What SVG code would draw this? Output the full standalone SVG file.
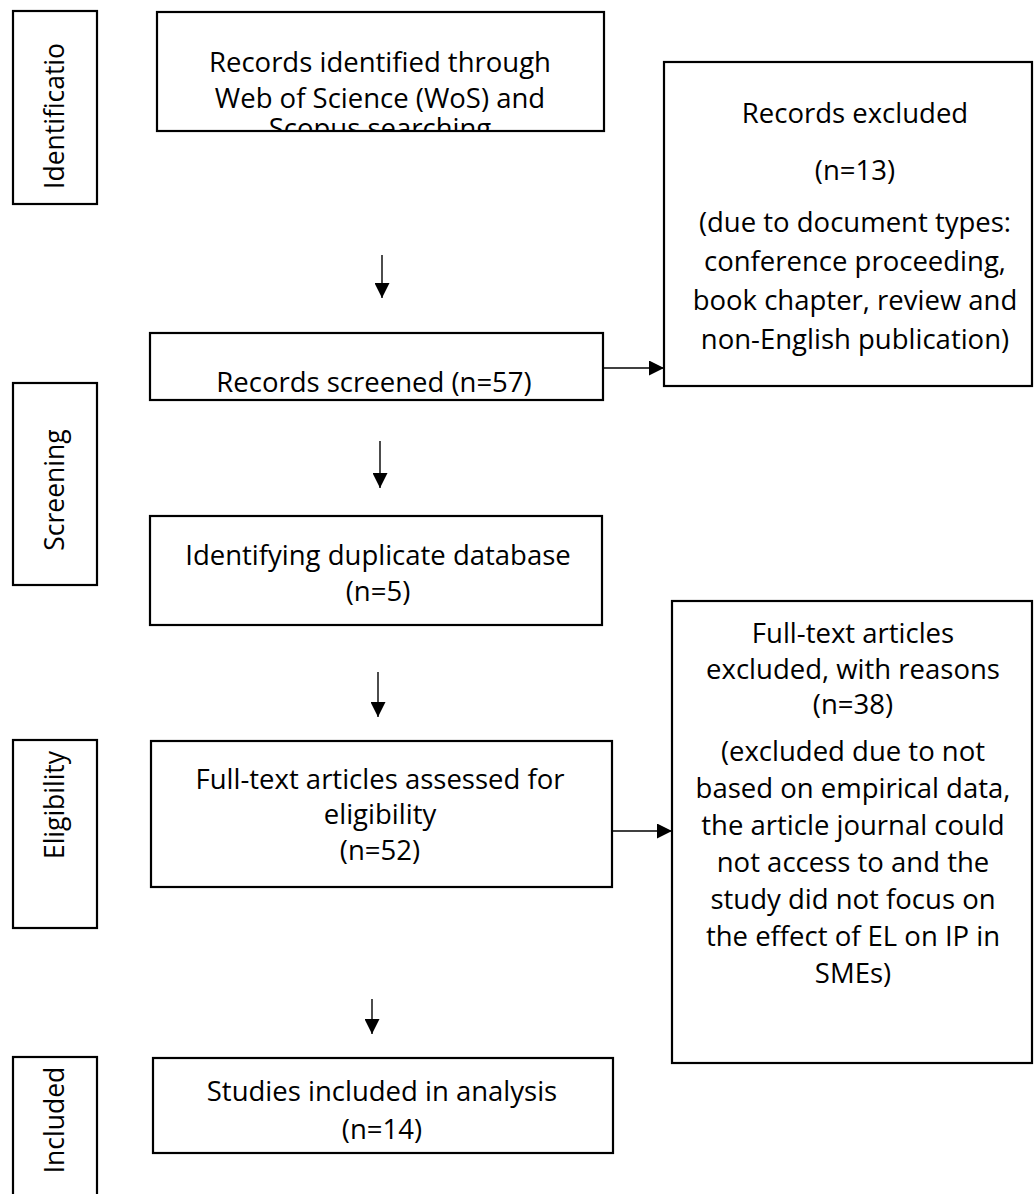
<svg xmlns="http://www.w3.org/2000/svg" width="1035" height="1194" viewBox="0 0 1035 1194">
<style>
.box{fill:#fff;stroke:#000;stroke-width:2.2}
.t{font-family:"Open Sans","Noto Sans",sans-serif;font-size:27.5px;fill:#000;text-anchor:middle}
.s{font-family:"Open Sans","Noto Sans",sans-serif;font-size:26.5px;fill:#000;text-anchor:middle}
.c{stroke:#000;stroke-width:1.4;fill:none}
</style>
<defs>
<marker id="ah" viewBox="0 0 10 10" refX="10" refY="5" markerWidth="15" markerHeight="15" markerUnits="userSpaceOnUse" orient="auto">
<path d="M0,0 L10,5 L0,10 z" fill="#000"/>
</marker>
<clipPath id="clipTop"><rect x="158" y="13" width="445" height="117"/></clipPath>
<clipPath id="clipScr"><rect x="151" y="334" width="451" height="65"/></clipPath>
<clipPath id="clipId"><rect x="14" y="12" width="82" height="191"/></clipPath>
<clipPath id="clipInc"><rect x="14" y="1058" width="82" height="136"/></clipPath>
</defs>
<rect width="1035" height="1194" fill="#fff"/>

<g id="stage-identification">
<rect class="box" x="13" y="11" width="84" height="193"/>
<g clip-path="url(#clipId)">
<text class="s" transform="translate(64,116) rotate(-90)">Identificatio</text>
</g>
</g>
<g id="stage-screening">
<rect class="box" x="13" y="383" width="84" height="202"/>
<text class="s" transform="translate(64,490) rotate(-90)">Screening</text>
</g>
<g id="stage-eligibility">
<rect class="box" x="13" y="740" width="84" height="188"/>
<text class="s" transform="translate(64,805) rotate(-90)">Eligibility</text>
</g>
<g id="stage-included">
<rect class="box" x="13" y="1057" width="84" height="150"/>
<g clip-path="url(#clipInc)">
<text class="s" transform="translate(64,1120) rotate(-90)">Included</text>
</g>
</g>

<g id="records-identified">
<rect class="box" x="157" y="12" width="447" height="119"/>
<g clip-path="url(#clipTop)">
<text class="t" x="380" y="72">Records identified through</text>
<text class="t" x="380" y="108">Web of Science (WoS) and</text>
<text class="t" x="380" y="138">Scopus searching</text>
</g>
</g>

<g id="records-screened">
<rect class="box" x="150" y="333" width="453" height="67"/>
<g clip-path="url(#clipScr)">
<text class="t" x="374" y="392">Records screened (n=57)</text>
</g>
</g>

<g id="records-excluded">
<rect class="box" x="664" y="62" width="368" height="324"/>
<text class="t" x="855" y="123">Records excluded</text>
<text class="t" x="855" y="180">(n=13)</text>
<text class="t" x="855" y="232">(due to document types:</text>
<text class="t" x="855" y="271">conference proceeding,</text>
<text class="t" x="855" y="310">book chapter, review and</text>
<text class="t" x="855" y="349">non-English publication)</text>
</g>

<g id="duplicates">
<rect class="box" x="150" y="516" width="452" height="109"/>
<text class="t" x="378" y="565">Identifying duplicate database</text>
<text class="t" x="378" y="601">(n=5)</text>
</g>

<g id="fulltext-assessed">
<rect class="box" x="151" y="741" width="461" height="146"/>
<text class="t" x="380" y="789">Full-text articles assessed for</text>
<text class="t" x="380" y="824">eligibility</text>
<text class="t" x="380" y="860">(n=52)</text>
</g>

<g id="fulltext-excluded">
<rect class="box" x="672" y="601" width="360" height="462"/>
<text class="t" x="853" y="643">Full-text articles</text>
<text class="t" x="853" y="679">excluded, with reasons</text>
<text class="t" x="853" y="714">(n=38)</text>
<text class="t" x="853" y="761">(excluded due to not</text>
<text class="t" x="853" y="798">based on empirical data,</text>
<text class="t" x="853" y="835">the article journal could</text>
<text class="t" x="853" y="872">not access to and the</text>
<text class="t" x="853" y="909">study did not focus on</text>
<text class="t" x="853" y="946">the effect of EL on IP in</text>
<text class="t" x="853" y="983">SMEs)</text>
</g>

<g id="studies-included">
<rect class="box" x="153" y="1058" width="460" height="95"/>
<text class="t" x="382" y="1101">Studies included in analysis</text>
<text class="t" x="382" y="1139">(n=14)</text>
</g>

<g id="connectors">
<line class="c" x1="382" y1="255" x2="382" y2="298" marker-end="url(#ah)"/>
<line class="c" x1="603" y1="368" x2="664" y2="368" marker-end="url(#ah)"/>
<line class="c" x1="380" y1="441" x2="380" y2="488" marker-end="url(#ah)"/>
<line class="c" x1="378" y1="672" x2="378" y2="717" marker-end="url(#ah)"/>
<line class="c" x1="612" y1="831" x2="672" y2="831" marker-end="url(#ah)"/>
<line class="c" x1="372" y1="999" x2="372" y2="1034" marker-end="url(#ah)"/>
</g>
</svg>
